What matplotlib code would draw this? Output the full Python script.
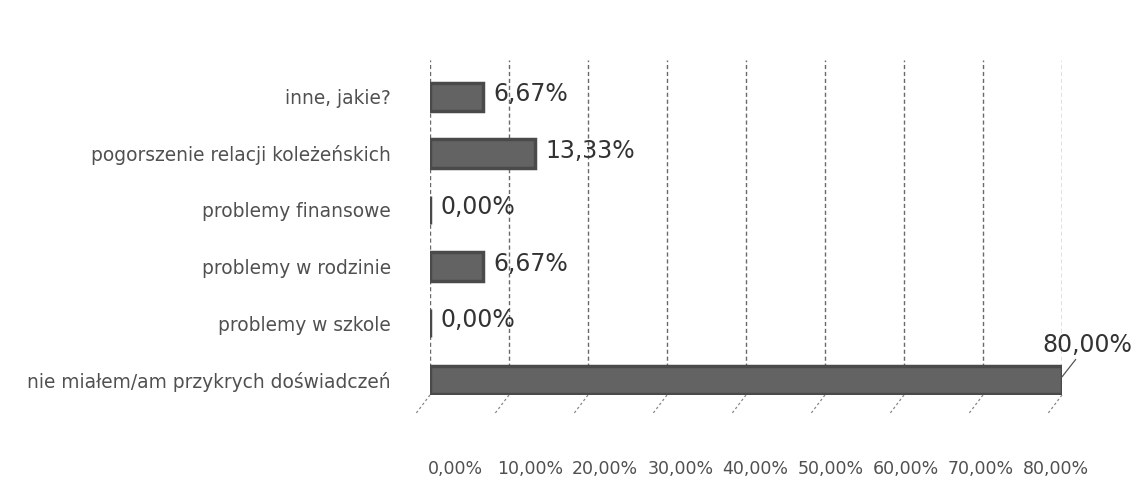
"""
Przykre doswiadczenia - poziomy wykres slupkowy
"""
import matplotlib.pyplot as plt
from matplotlib.lines import Line2D

categories = ["nie miałem/am przykrych doświadczeń",
              "problemy w szkole",
              "problemy w rodzinie",
              "problemy finansowe",
              "pogorszenie relacji koleżeńskich",
              "inne, jakie?"]
values = [80.00, 0.00, 6.67, 0.00, 13.33, 6.67]
ticks = [0, 10, 20, 30, 40, 50, 60, 70, 80]
tick_labels = ["0,00%", "10,00%", "20,00%", "30,00%", "40,00%",
               "50,00%", "60,00%", "70,00%", "80,00%"]

def pl(v):
    return ("%.2f" % v).replace(".", ",") + "%"

fig = plt.figure(figsize=(11.41, 4.86), dpi=100)
ax = fig.add_axes([430/1141, 1-395/486, 632/1141, 335/486])
ypos = list(range(len(categories)))

ax.barh(ypos, values, height=0.5, color="#636363", edgecolor="#4a4a4a",
        linewidth=2.5, zorder=3)

ax.set_xlim(0, 80)
ax.set_ylim(-0.27, 5.65)
for t in ticks:
    ax.axvline(t, color="#6a6a6a", linestyle=(0, (3, 2)), linewidth=1.0, zorder=1)

# short floor lines under the grid
for t in ticks:
    ax.add_line(Line2D([t, t - 1.8], [-0.27, -0.6], color="#888888",
                       linestyle=(0, (2, 2)), linewidth=0.9, clip_on=False))

for s in ax.spines.values():
    s.set_visible(False)
ax.set_xticks([])
ax.set_yticks(ypos)
ax.set_yticklabels(categories, fontsize=13.4, color="#505050")
ax.tick_params(axis="y", length=0, pad=28)

# value labels
for y, v in zip(ypos, values):
    if v >= 50:
        ax.annotate(pl(v), xy=(v, y + 0.05), xytext=(v + 3.2, y + 0.62),
                    fontsize=17, color="#333333", ha="center", va="center",
                    arrowprops=dict(arrowstyle="-", color="#555555", lw=0.9,
                                    shrinkA=0, shrinkB=0))
    else:
        ax.text(v + 1.3, y + 0.05, pl(v), fontsize=17, color="#333333",
                va="center", ha="left")

# x labels drawn on their own axis, slightly narrower than the bars
ax2 = fig.add_axes([455/1141, 1-460/486, 601/1141, 0.001])
ax2.set_xlim(0, 80)
ax2.set_xticks(ticks)
ax2.set_xticklabels(tick_labels, fontsize=12.5, color="#505050")
ax2.tick_params(axis="x", length=0, pad=0)
ax2.set_yticks([])
for s in ax2.spines.values():
    s.set_visible(False)
ax2.patch.set_alpha(0)

plt.savefig("out.png", dpi=100)
